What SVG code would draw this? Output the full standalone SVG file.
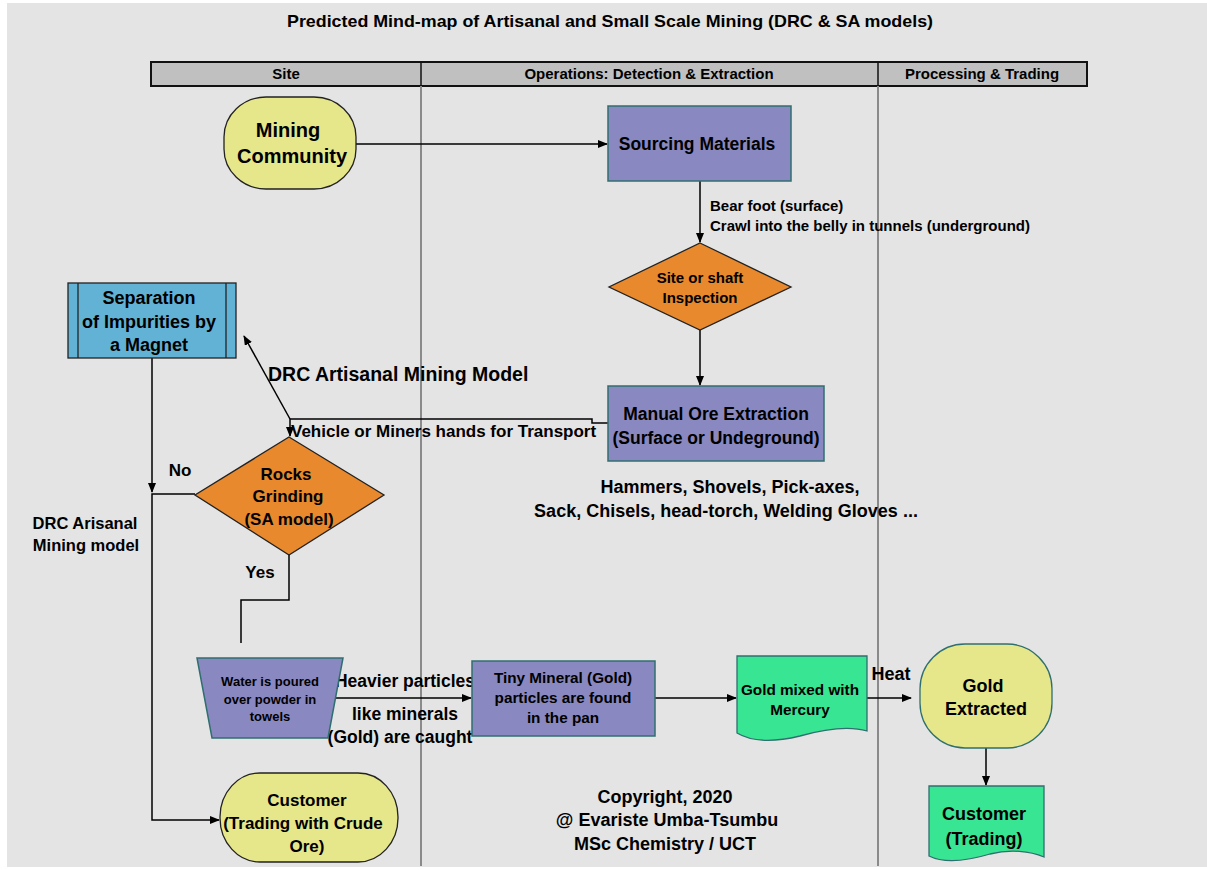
<svg xmlns="http://www.w3.org/2000/svg" width="1207" height="870" viewBox="0 0 1207 870">
<style>
text{font-family:"Liberation Sans",Arial,sans-serif;font-weight:bold;fill:#000;text-anchor:middle}
.l{text-anchor:start}
.yel{fill:#e6e68a;stroke:#222;stroke-width:1.3}
.pur{fill:#8a88c0;stroke:#2f6f6f;stroke-width:1.5}
.org{fill:#e8892d;stroke:#222;stroke-width:1.3}
.grn{fill:#38e592;stroke:#2f6f6f;stroke-width:1.3}
.blu{fill:#62b2d5;stroke:#222;stroke-width:1.3}
.lane{stroke:#8a8a8a;stroke-width:2;fill:none}
.c{stroke:#000;stroke-width:1.5;fill:none}
</style>
<defs>
<marker id="ah" markerWidth="10" markerHeight="8" refX="9" refY="4" orient="auto" markerUnits="userSpaceOnUse">
<path d="M0,0 L10,4 L0,8 Z" fill="#000"/>
</marker>
</defs>
<rect x="0" y="0" width="1207" height="870" fill="#fff"/>
<rect x="7" y="3" width="1200" height="864" fill="#e4e4e4"/>
<text x="610" y="27" font-size="17" textLength="646" lengthAdjust="spacingAndGlyphs">Predicted Mind-map of Artisanal and Small Scale Mining (DRC &amp; SA models)</text>
<g id="lanes">
<rect x="151" y="62" width="936" height="24" fill="#c0c0c0" stroke="#111" stroke-width="2"/>
<line x1="421" y1="62" x2="421" y2="86" stroke="#111" stroke-width="1.5"/>
<line x1="878" y1="62" x2="878" y2="86" stroke="#111" stroke-width="1.5"/>
<line class="lane" x1="421" y1="86" x2="421" y2="866"/>
<line class="lane" x1="878" y1="86" x2="878" y2="866"/>
<text x="286" y="79" font-size="15">Site</text>
<text x="649" y="79" font-size="15">Operations: Detection &amp; Extraction</text>
<text x="982" y="79" font-size="15">Processing &amp; Trading</text>
</g>
<g id="connectors">
<line class="c" x1="356" y1="144" x2="607" y2="144" marker-end="url(#ah)"/>
<line class="c" x1="700" y1="181" x2="700" y2="242" marker-end="url(#ah)"/>
<line class="c" x1="700" y1="330" x2="700" y2="385" marker-end="url(#ah)"/>
<path class="c" d="M608,423 H592 V419 H290 V436" marker-end="url(#ah)"/>
<line class="c" x1="290" y1="419" x2="244" y2="336" marker-end="url(#ah)"/>
<line class="c" x1="152" y1="358" x2="152" y2="492" marker-end="url(#ah)"/>
<path class="c" d="M195,494 H152 V820 H219" marker-end="url(#ah)"/>
<path class="c" d="M289,555 V600 H241 V643"/>
<line class="c" x1="333" y1="698" x2="471" y2="698" marker-end="url(#ah)"/>
<line class="c" x1="655" y1="698" x2="736" y2="698" marker-end="url(#ah)"/>
<line class="c" x1="867" y1="698" x2="911" y2="698" marker-end="url(#ah)"/>
<line class="c" x1="986" y1="748" x2="986" y2="785" marker-end="url(#ah)"/>
<text class="l" x="710" y="211" font-size="15">Bear foot (surface)</text>
<text class="l" x="710" y="231" font-size="15">Crawl into the belly in tunnels (underground)</text>
<text class="l" x="268" y="381" font-size="19.5">DRC Artisanal Mining Model</text>
<text class="l" x="291" y="437" font-size="17">Vehicle or Miners hands for Transport</text>
<text x="180" y="476" font-size="17">No</text>
<text x="260" y="578" font-size="17">Yes</text>
<text x="85" y="529" font-size="16.5">DRC Arisanal</text>
<text x="86" y="551" font-size="16.5">Mining model</text>
<text x="405" y="687" font-size="17.5">Heavier particles</text>
<text x="405" y="720" font-size="17.5">like minerals</text>
<text x="400" y="743" font-size="17.5">(Gold) are caught</text>
<text x="891" y="680" font-size="18">Heat</text>
</g>
<g id="mining-community">
<rect class="yel" x="224" y="97" width="132" height="92" rx="42" ry="40"/>
<text x="288" y="137" font-size="20">Mining</text>
<text x="292" y="163" font-size="20">Community</text>
</g>
<g id="sourcing">
<rect class="pur" x="608" y="106" width="183" height="75"/>
<text x="697" y="150" font-size="17.5">Sourcing Materials</text>
</g>
<g id="inspection">
<polygon class="org" points="700,243 791,287 700,330 609,287"/>
<text x="700" y="283" font-size="15">Site or shaft</text>
<text x="700" y="303" font-size="15">Inspection</text>
</g>
<g id="manual-extraction">
<rect class="pur" x="608" y="386" width="216" height="75"/>
<text x="716" y="420" font-size="17.5">Manual Ore Extraction</text>
<text x="716" y="444" font-size="17.5">(Surface or Undeground)</text>
</g>
<g id="tools">
<text x="730" y="493" font-size="18">Hammers, Shovels, Pick-axes,</text>
<text x="726" y="517" font-size="18">Sack, Chisels, head-torch, Welding Gloves ...</text>
</g>
<g id="separation">
<rect class="blu" x="68" y="283" width="168" height="75"/>
<line x1="78" y1="283" x2="78" y2="358" stroke="#222" stroke-width="1.3"/>
<line x1="226" y1="283" x2="226" y2="358" stroke="#222" stroke-width="1.3"/>
<text x="149" y="304" font-size="18">Separation</text>
<text x="149" y="328" font-size="18">of Impurities by</text>
<text x="149" y="351" font-size="18">a Magnet</text>
</g>
<g id="rocks-grinding">
<polygon class="org" points="289,437 384,495 289,555 195,495"/>
<text x="286" y="480" font-size="17">Rocks</text>
<text x="288" y="502" font-size="17">Grinding</text>
<text x="289" y="525" font-size="17">(SA model)</text>
</g>
<g id="water">
<polygon class="pur" points="197,658 343,658 328,738 212,738"/>
<text x="270" y="686" font-size="13">Water is poured</text>
<text x="270" y="704" font-size="13">over powder in</text>
<text x="270" y="721" font-size="13">towels</text>
</g>
<g id="tiny-mineral">
<rect class="pur" x="472" y="661" width="183" height="75"/>
<text x="563" y="683" font-size="15.3">Tiny Mineral (Gold)</text>
<text x="563" y="703" font-size="15.3">particles are found</text>
<text x="563" y="723" font-size="15.3">in the pan</text>
</g>
<g id="gold-mercury">
<path class="grn" d="M737,656 H867 V731 C850,726 825,729 800,736 C775,742 752,742 737,733 Z"/>
<text x="800" y="695" font-size="15.3">Gold mixed with</text>
<text x="800" y="715" font-size="15.3">Mercury</text>
</g>
<g id="gold-extracted">
<rect class="yel" x="920" y="644" width="132" height="104" rx="45" ry="45" style="stroke:#2f6f6f"/>
<text x="983" y="692" font-size="18">Gold</text>
<text x="986" y="715" font-size="18">Extracted</text>
</g>
<g id="customer-trading">
<path class="grn" d="M929,786 H1044 V857 C1030,851 1010,849 990,854 C970,860 945,864 929,856 Z"/>
<text x="984" y="820" font-size="18">Customer</text>
<text x="984" y="845" font-size="18">(Trading)</text>
</g>
<g id="customer-crude">
<rect class="yel" x="220" y="773" width="178" height="89" rx="40" ry="44"/>
<text x="307" y="806" font-size="17">Customer</text>
<text x="303" y="829" font-size="17">(Trading with Crude</text>
<text x="307" y="852" font-size="17">Ore)</text>
</g>
<g id="copyright">
<text x="665" y="803" font-size="18">Copyright, 2020</text>
<text x="667" y="826" font-size="18">@ Evariste Umba-Tsumbu</text>
<text x="665" y="850" font-size="18">MSc Chemistry / UCT</text>
</g>
</svg>
